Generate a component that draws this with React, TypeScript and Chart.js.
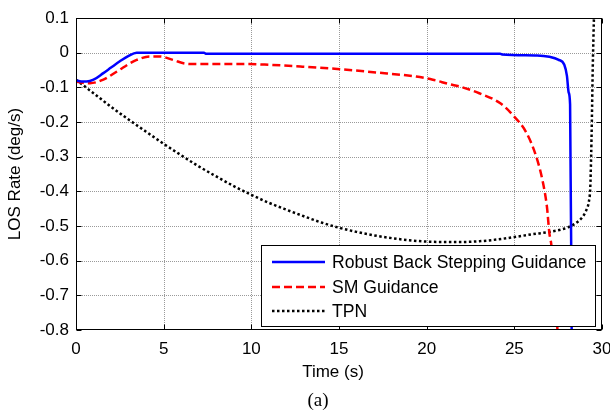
import React, { useEffect, useRef } from 'react';
import { Chart, registerables } from 'chart.js';

Chart.register(...registerables);

// ---- data (time in s, LOS rate in deg/s) ----
const robustT = [0, 0.3, 0.6, 1.0, 1.56, 2.0, 2.5, 3.0, 3.46, 4.0, 7.3, 7.4, 24.2, 24.3, 26.3, 27.0, 27.5, 27.85, 28.0, 28.1, 28.18, 28.27];
const robustV = [-0.080, -0.083, -0.083, -0.078, -0.059, -0.043, -0.025, -0.009, 0.0, 0.0, 0.0, -0.003, -0.003, -0.005, -0.008, -0.012, -0.020, -0.035, -0.067, -0.115, -0.15, -0.80];

const smT = [0, 0.4, 0.8, 1.56, 2.0, 2.5, 3.0, 3.46, 4.2, 4.8, 5.54, 6.3, 7.0, 9.9, 11.0, 12.8, 14.9, 17.1, 19.4, 20.35, 21.3, 21.9, 23.0, 24.2, 24.9, 25.7, 26.25, 26.6, 26.86, 27.0, 27.1, 27.2, 27.33, 27.46, 27.55];
const smV = [-0.083, -0.087, -0.088, -0.078, -0.065, -0.049, -0.033, -0.021, -0.011, -0.011, -0.021, -0.032, -0.033, -0.033, -0.035, -0.040, -0.047, -0.057, -0.069, -0.078, -0.091, -0.098, -0.117, -0.146, -0.179, -0.232, -0.300, -0.367, -0.445, -0.521, -0.55, -0.60, -0.70, -0.80, -0.90];

const tpnT = [0, 1, 2, 3, 4, 5, 6, 7, 8, 9, 10, 11, 12, 13, 14, 15, 16, 17, 18, 19, 20, 21, 22, 23, 24, 25, 26, 27, 28, 28.5, 28.9, 29.1, 29.25, 29.33, 29.38, 29.42, 29.47, 29.51, 29.55];
const tpnV = [-0.078, -0.117, -0.156, -0.193, -0.228, -0.263, -0.296, -0.328, -0.357, -0.385, -0.410, -0.433, -0.453, -0.472, -0.490, -0.505, -0.517, -0.527, -0.535, -0.541, -0.545, -0.546, -0.546, -0.544, -0.539, -0.532, -0.524, -0.517, -0.505, -0.492, -0.473, -0.455, -0.430, -0.390, -0.300, -0.200, -0.050, 0.040, 0.120];

const seriesNames = ['Robust Back Stepping Guidance', 'SM Guidance', 'TPN'];
const xTitle = 'Time (s)';
const yTitle = 'LOS Rate (deg/s)';
const caption = '(a)';
const xRange = [0, 30];
const yRange = [-0.8, 0.1];
const xStep = 5;
const yStep = 0.1;

const FONT = '"Liberation Sans", Arial, Helvetica, sans-serif';
const SERIF = '"Liberation Serif", "Times New Roman", serif';

const toPoints = (t: number[], v: number[]) => t.map((x, i) => ({ x, y: v[i] }));

const styles = [
  { color: '#0000ff', dash: [] as number[] },
  { color: '#ff0000', dash: [8, 4] },
  { color: '#000000', dash: [2.5, 2.5] },
];

const gridPlugin = {
  id: 'matlabGrid',
  beforeDatasetsDraw(chart: any) {
    const { ctx, chartArea, scales } = chart;
    const { left, right, top, bottom } = chartArea;
    ctx.save();
    ctx.strokeStyle = '#9a9a9a';
    ctx.lineWidth = 1;
    ctx.setLineDash([1, 1]);
    scales.x.ticks.forEach((t: any) => {
      if (t.value <= scales.x.min || t.value >= scales.x.max) return;
      const px = Math.round(scales.x.getPixelForValue(t.value)) + 0.5;
      ctx.beginPath();
      ctx.moveTo(px, top);
      ctx.lineTo(px, bottom);
      ctx.stroke();
    });
    scales.y.ticks.forEach((t: any) => {
      if (t.value <= scales.y.min + 1e-9 || t.value >= scales.y.max - 1e-9) return;
      const py = Math.round(scales.y.getPixelForValue(t.value)) + 0.5;
      ctx.beginPath();
      ctx.moveTo(left, py);
      ctx.lineTo(right, py);
      ctx.stroke();
    });
    ctx.restore();
  },
};

const framePlugin = {
  id: 'matlabFrame',
  afterDatasetsDraw(chart: any) {
    const { ctx, chartArea, scales } = chart;
    const { left, right, top, bottom } = chartArea;
    ctx.save();
    ctx.setLineDash([]);
    ctx.strokeStyle = '#000';
    ctx.lineWidth = 1;
    const L = Math.round(left) + 0.5;
    const R = Math.round(right) - 0.5;
    const T = Math.round(top) + 0.5;
    const B = Math.round(bottom) - 0.5;
    ctx.strokeRect(L, T, R - L, B - T);
    const tl = 5;
    ctx.beginPath();
    scales.x.ticks.forEach((t: any) => {
      const px = Math.round(scales.x.getPixelForValue(t.value)) + 0.5;
      ctx.moveTo(px, B);
      ctx.lineTo(px, B - tl);
      ctx.moveTo(px, T);
      ctx.lineTo(px, T + tl);
    });
    scales.y.ticks.forEach((t: any) => {
      const py = Math.round(scales.y.getPixelForValue(t.value)) + 0.5;
      ctx.moveTo(L, py);
      ctx.lineTo(L + tl, py);
      ctx.moveTo(R, py);
      ctx.lineTo(R - tl, py);
    });
    ctx.stroke();

    // legend box
    const bx = 261.5, by = 245.5, bw = 334, bh = 81;
    ctx.fillStyle = '#fff';
    ctx.fillRect(bx, by, bw, bh);
    ctx.strokeStyle = '#000';
    ctx.lineWidth = 1;
    ctx.strokeRect(bx, by, bw, bh);
    ctx.font = `17.6px ${FONT}`;
    ctx.textBaseline = 'middle';
    ctx.textAlign = 'left';
    const rows = [262, 287, 311];
    seriesNames.forEach((name, i) => {
      const st = styles[i];
      ctx.save();
      ctx.strokeStyle = st.color;
      ctx.lineWidth = 2.5;
      ctx.setLineDash(st.dash);
      ctx.beginPath();
      ctx.moveTo(272, rows[i]);
      ctx.lineTo(325, rows[i]);
      ctx.stroke();
      ctx.restore();
      ctx.fillStyle = '#000';
      ctx.fillText(name, 332, rows[i] + 1);
    });

    // axis titles and caption
    ctx.fillStyle = '#000';
    ctx.textAlign = 'center';
    ctx.textBaseline = 'middle';
    ctx.font = `17px ${FONT}`;
    ctx.fillText(xTitle, 333, 372);
    ctx.save();
    ctx.translate(15, 174);
    ctx.rotate(-Math.PI / 2);
    ctx.fillText(yTitle, 0, 0);
    ctx.restore();
    ctx.font = `19px ${SERIF}`;
    ctx.fillText(caption, 318, 401);
    ctx.restore();
  },
};

export default function App() {
  const ref = useRef<HTMLCanvasElement | null>(null);
  useEffect(() => {
    if (!ref.current) return;
    const series = [
      toPoints(robustT, robustV),
      toPoints(smT, smV),
      toPoints(tpnT, tpnV),
    ];
    const chart = new Chart(ref.current, {
      type: 'line',
      data: {
        datasets: series.map((d, i) => ({
          label: seriesNames[i],
          data: d,
          borderColor: styles[i].color,
          backgroundColor: styles[i].color,
          borderDash: styles[i].dash,
          borderWidth: 2.5,
          pointRadius: 0,
          fill: false,
          cubicInterpolationMode: 'monotone' as const,
        })),
      },
      options: {
        responsive: false,
        animation: false,
        parsing: false as any,
        layout: { padding: { top: 18, right: 8, left: 0, bottom: 0 } },
        plugins: { legend: { display: false }, tooltip: { enabled: false } },
        scales: {
          x: {
            type: 'linear',
            min: xRange[0],
            max: xRange[1],
            grid: { display: false, drawTicks: false },
            border: { display: false },
            ticks: {
              stepSize: xStep,
              color: '#000',
              font: { family: FONT, size: 17 },
              padding: 9,
              maxRotation: 0,
            },
            afterFit: (s: any) => {
              s.height = 85;
              s.paddingLeft = 0;
              s.paddingRight = 0;
            },
          },
          y: {
            type: 'linear',
            min: yRange[0],
            max: yRange[1],
            grid: { display: false, drawTicks: false },
            border: { display: false },
            ticks: {
              stepSize: yStep,
              color: '#000',
              font: { family: FONT, size: 17 },
              padding: 7,
              callback: (v: any) => {
                const r = Math.round(Number(v) * 10) / 10;
                return r === 0 ? '0' : String(r);
              },
            },
            afterFit: (s: any) => {
              s.width = 76;
              s.paddingTop = 0;
              s.paddingBottom = 0;
            },
          },
        },
      },
      plugins: [gridPlugin, framePlugin],
    } as any);
    return () => chart.destroy();
  }, []);
  return (
    <div style={{ position: 'absolute', left: 0, top: 0, width: 610, height: 415, background: '#fff' }}>
      <canvas ref={ref} width={610} height={415} style={{ display: 'block' }} />
    </div>
  );
}
